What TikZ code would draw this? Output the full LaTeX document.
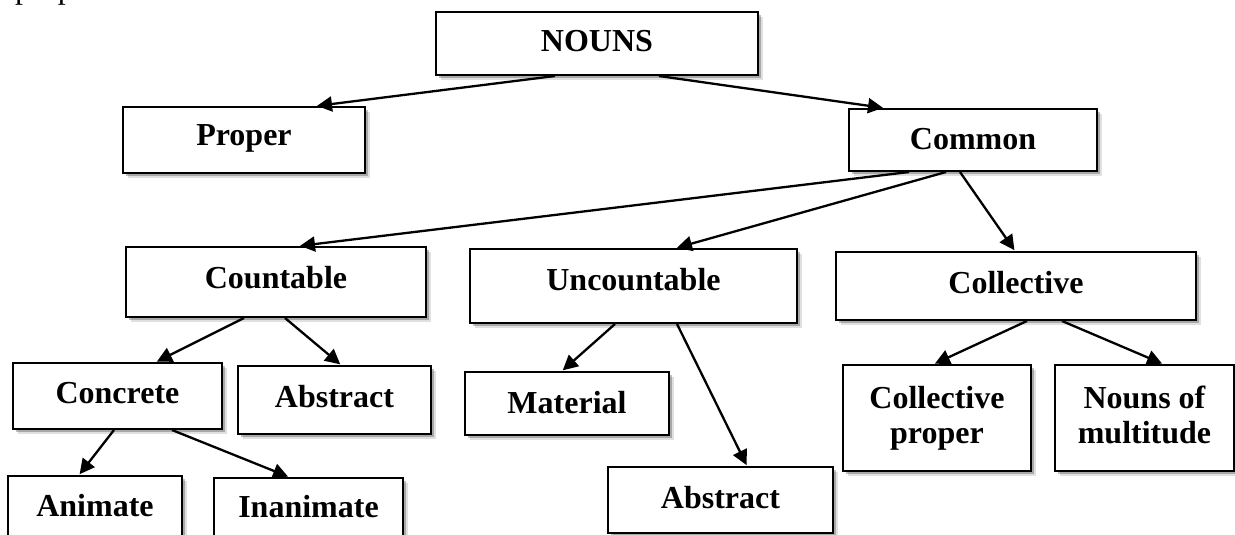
\documentclass[tikz,border=0pt]{standalone}
\usepackage{fontspec}
\setmainfont{Liberation Serif}
\usetikzlibrary{arrows.meta,shadows}
\begin{document}
\begin{tikzpicture}[x=1pt,y=-1pt,
  box/.style={draw, line width=2pt, fill=white, inner sep=0pt, align=center,
    font=\fontsize{32}{35}\selectfont\bfseries,
    drop shadow={shadow xshift=5pt, shadow yshift=-5pt, fill=black, opacity=0.12},
    drop shadow={shadow xshift=3pt, shadow yshift=-3pt, fill=black, opacity=0.25}},
  one/.style={text height=21pt},
  link/.style={line width=2.3pt, -{Triangle[length=15pt,width=15pt]}, shorten >=1pt}]
\useasboundingbox (0,0) rectangle (1235,535);
\clip (0,0) rectangle (1235,535);
\node[anchor=base west, font=\fontsize{32}{35}\selectfont, inner sep=0pt] (intro) at (15,-1) {proper and common.};

\node[box, one, text depth=5pt,   minimum width=322pt, minimum height=63pt] (nouns)       at (597,43.5)  {NOUNS};
\node[box, one, text depth=10pt,  minimum width=242pt, minimum height=66pt] (proper)      at (244,140)   {Proper};
\node[box, one, text depth=2.6pt, minimum width=248pt, minimum height=62pt] (common)      at (973,140)   {Common};
\node[box, one, text depth=8pt,   minimum width=300pt, minimum height=70pt] (countable)   at (276,282)   {Countable};
\node[box, one, text depth=12pt,  minimum width=327pt, minimum height=74pt] (uncountable) at (633.5,286) {Uncountable};
\node[box, one, text depth=6.6pt, minimum width=360pt, minimum height=68pt] (collective)  at (1016,286)  {Collective};
\node[box, one, text depth=6pt,   minimum width=209pt, minimum height=66pt] (concrete)    at (117.5,396) {Concrete};
\node[box, one, text depth=6pt,   minimum width=193pt, minimum height=68pt] (abstracta)   at (334.5,400) {Abstract};
\node[box, one, text depth=6pt,   minimum width=174pt, minimum height=66pt] (animate)     at (95,509)    {Animate};
\node[box, one, text depth=8pt,   minimum width=189pt, minimum height=66pt] (inanimate)   at (308.5,511) {Inanimate};
\node[box, one, text depth=2pt,   minimum width=204pt, minimum height=63pt] (material)    at (567,403.5) {Material};
\node[box, one, text depth=4pt,   minimum width=225pt, minimum height=66pt] (abstractb)   at (720.5,500) {Abstract};
\node[box, minimum width=188pt, minimum height=106pt] (collproper) at (937,418)    {Collective\\proper};
\node[box, minimum width=179pt, minimum height=106pt] (multitude)  at (1144.5,418) {Nouns of\\multitude\vphantom{p}};

\draw[link] ([xshift=120pt]nouns.south west) -- ([xshift=194pt]proper.north west);
\draw[link] ([xshift=224pt]nouns.south west) -- ([xshift=36pt]common.north west);
\draw[link] ([xshift=61pt]common.south west) -- ([xshift=174pt]countable.north west);
\draw[link] ([xshift=98pt]common.south west) -- ([xshift=207pt]uncountable.north west);
\draw[link] ([xshift=112pt]common.south west) -- ([xshift=180pt]collective.north west);
\draw[link] ([xshift=119pt]countable.south west) -- ([xshift=144pt]concrete.north west);
\draw[link] ([xshift=160pt]countable.south west) -- ([xshift=104pt]abstracta.north west);
\draw[link] ([xshift=102pt]concrete.south west) -- ([xshift=72pt]animate.north west);
\draw[link] ([xshift=160pt]concrete.south west) -- ([xshift=76pt]inanimate.north west);
\draw[link] ([xshift=146pt]uncountable.south west) -- ([xshift=98pt]material.north west);
\draw[link] ([xshift=208pt]uncountable.south west) -- ([xshift=140pt]abstractb.north west);
\draw[link] ([xshift=192pt]collective.south west) -- ([xshift=92pt]collproper.north west);
\draw[link] ([xshift=227pt]collective.south west) -- ([xshift=109pt]multitude.north west);
\end{tikzpicture}
\end{document}
